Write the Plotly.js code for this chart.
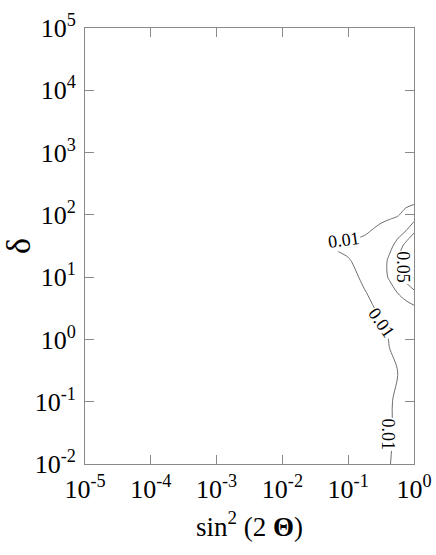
<!DOCTYPE html>
<html>
<head>
<meta charset="utf-8">
<script src="https://cdn.plot.ly/plotly-3.0.1.min.js"></script>
<style>
  html, body { margin: 0; padding: 0; background: #fff; }
  #chart { width: 436px; height: 555px; }
</style>
</head>
<body>
<div id="chart"></div>
<script>
// grid of the scan: exponents of sin^2(2 theta) and delta
const logSin2 = [-5, -2, -1.5, -1.25, -1, -0.75, -0.5, -0.375, -0.25, -0.125, 0];
const logDelta = [-2, -1.5, -1, -0.5, 0, 0.5, 0.75, 1, 1.25, 1.5, 1.75, 2, 2.25, 3, 5];

// probability values (rows follow logDelta)
const prob = [
    [0.0005, 0.002, 0.003, 0.003, 0.004, 0.005, 0.007, 0.0098, 0.0112, 0.0125, 0.0145],
    [0.0005, 0.002, 0.003, 0.003, 0.004, 0.005, 0.007, 0.0095, 0.0108, 0.012, 0.014],
    [0.0005, 0.002, 0.003, 0.003, 0.004, 0.005, 0.007, 0.0095, 0.0108, 0.012, 0.0135],
    [0.0005, 0.002, 0.003, 0.003, 0.004, 0.0045, 0.006, 0.0085, 0.0099, 0.0115, 0.013],
    [0.0005, 0.002, 0.003, 0.003, 0.004, 0.0045, 0.0063, 0.0105, 0.012, 0.014, 0.016],
    [0.0005, 0.002, 0.003, 0.003, 0.004, 0.007, 0.012, 0.014, 0.018, 0.022, 0.026],
    [0.0005, 0.002, 0.003, 0.003, 0.005, 0.0092, 0.016, 0.022, 0.0302, 0.038, 0.046],
    [0.0005, 0.002, 0.003, 0.0035, 0.0047, 0.013, 0.022, 0.032, 0.0424, 0.056, 0.068],
    [0.0005, 0.002, 0.004, 0.006, 0.00925, 0.013, 0.017, 0.035, 0.0488, 0.064, 0.075],
    [0.0005, 0.003, 0.005, 0.0102, 0.012, 0.015, 0.019, 0.024, 0.0375, 0.057, 0.07],
    [0.0005, 0.002, 0.004, 0.0045, 0.0055, 0.0077, 0.0135, 0.017, 0.021, 0.029, 0.046],
    [0.0005, 0.002, 0.003, 0.003, 0.004, 0.005, 0.006, 0.007, 0.0088, 0.014, 0.018],
    [0.0005, 0.001, 0.002, 0.002, 0.0025, 0.003, 0.0035, 0.004, 0.0045, 0.005, 0.006],
    [0.0005, 0.001, 0.001, 0.001, 0.0012, 0.0015, 0.0018, 0.002, 0.002, 0.0025, 0.003],
    [0.0005, 0.0005, 0.0005, 0.0005, 0.0005, 0.0005, 0.0008, 0.0008, 0.001, 0.001, 0.001]
];

// contour levels 0.01, 0.03, 0.05
const levelStart = 0.01;
const levelEnd = 0.05;
const levelStep = 0.02;

// level labels as printed on the lines (positions in decades, angle in degrees)
const labelText = ['0.01', '0.01', '0.01', '0.05'];
const labelLogX = [-1.07, -0.49, -0.40, -0.17];
const labelLogY = [1.60, 0.27, -1.52, 1.16];
const labelAngle = [-8, 55, 90, 90];

const xTickVals = [1e-5, 1e-4, 1e-3, 1e-2, 1e-1, 1];
const xTickText = ['10<sup>-5</sup>', '10<sup>-4</sup>', '10<sup>-3</sup>', '10<sup>-2</sup>', '10<sup>-1</sup>', '10<sup>0</sup>'];
const yTickVals = [1e-2, 1e-1, 1, 1e1, 1e2, 1e3, 1e4, 1e5];
const yTickText = ['10<sup>-2</sup>', '10<sup>-1</sup>', '10<sup>0</sup>', '10<sup>1</sup>', '10<sup>2</sup>', '10<sup>3</sup>', '10<sup>4</sup>', '10<sup>5</sup>'];

const serif = 'Liberation Serif';
const lineGray = '#6e6e6e';
const axisGray = '#8a8a8a';

const xs = logSin2.map(v => Math.pow(10, v));
const ys = logDelta.map(v => Math.pow(10, v));

const data = [{
    type: 'contour',
    x: xs,
    y: ys,
    z: prob,
    autocontour: false,
    contours: {
        coloring: 'lines',
        start: levelStart,
        end: levelEnd,
        size: levelStep,
        showlabels: false
    },
    colorscale: [[0, lineGray], [1, lineGray]],
    line: { width: 1, smoothing: 1 },
    showscale: false,
    hoverinfo: 'skip'
}];

const annotations = labelText.map((t, i) => ({
    xref: 'x',
    yref: 'y',
    x: labelLogX[i],
    y: labelLogY[i],
    text: t,
    textangle: labelAngle[i],
    showarrow: false,
    bgcolor: '#fff',
    borderpad: 0,
    font: { family: serif, size: 18, color: '#000' }
}));

const axisCommon = {
    type: 'log',
    showgrid: false,
    zeroline: false,
    showline: true,
    linecolor: axisGray,
    linewidth: 1,
    mirror: 'allticks',
    ticks: 'inside',
    ticklen: 9,
    tickwidth: 1,
    tickcolor: axisGray,
    tickfont: { family: serif, size: 26, color: '#000' }
};

const layout = {
    width: 436,
    height: 555,
    paper_bgcolor: '#fff',
    plot_bgcolor: '#fff',
    showlegend: false,
    margin: { l: 85, r: 22, t: 28, b: 91 },
    font: { family: serif, color: '#000' },
    annotations: annotations,
    xaxis: Object.assign({}, axisCommon, {
        range: [-5, 0],
        tickvals: xTickVals,
        ticktext: xTickText,
        ticklabelstandoff: 2,
        title: { text: 'sin<sup>2</sup> (2 <b>Θ</b>)', standoff: 13, font: { family: serif, size: 27, color: '#000' } }
    }),
    yaxis: Object.assign({}, axisCommon, {
        range: [-2, 5],
        tickvals: yTickVals,
        ticktext: yTickText,
        ticklabelstandoff: 3,
        title: { text: 'δ', font: { family: serif, size: 34, color: '#000' } }
    })
};

Plotly.newPlot('chart', data, layout, { displayModeBar: false, staticPlot: true });
</script>
</body>
</html>
